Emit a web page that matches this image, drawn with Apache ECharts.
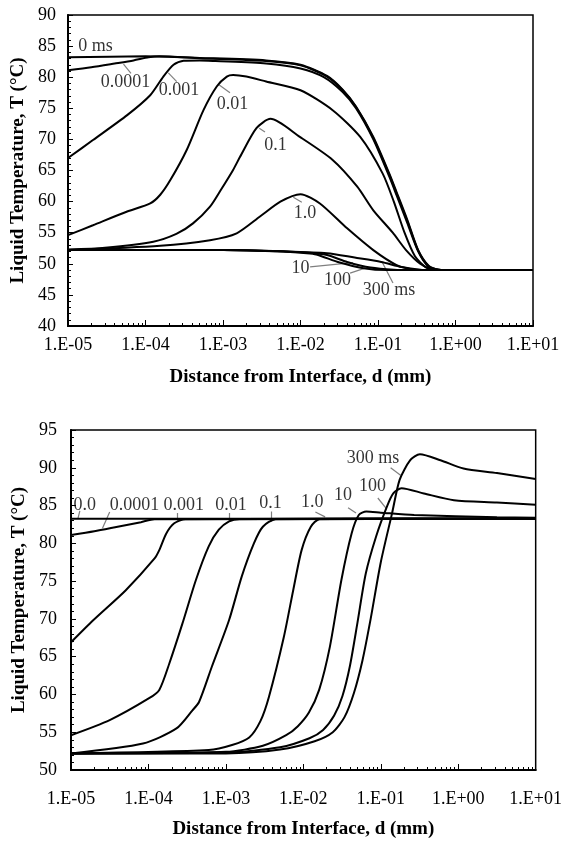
<!DOCTYPE html>
<html><head><meta charset="utf-8">
<script src="https://cdn.jsdelivr.net/npm/echarts@6/dist/echarts.min.js"></script>
<style>html,body{margin:0;padding:0;background:#fff}#c{width:565px;height:841px}</style>
</head><body><div id="c"></div>
<script>
// ---------- TOP CHART DATA (distance mm, temperature °C) ----------
const topX = { min: 1e-5, max: 10 };
const topY = { min: 40, max: 90, interval: 5 };
const top_0ms   = [[1e-5,83.2],[1e-4,83.35],[5e-4,83.1],[3.6e-3,82.7],[0.01,82.0],[0.022,80.2],[0.035,78.0],[0.052,75.3],[0.087,70.4],[0.14,64.5],[0.174,61.5],[0.24,57],[0.33,52.2],[0.45,49.7],[0.6,49.05],[1,49],[10,49]];
const top_00001 = [[1e-5,81.1],[2e-5,81.6],[4e-5,82.2],[7e-5,82.7],[1.1e-4,83.2],[1.5e-4,83.35],[5e-4,83.05],[3.6e-3,82.6],[0.01,81.9],[0.022,80.1],[0.035,77.9],[0.052,75.2],[0.087,70.2],[0.14,64.3],[0.174,61.3],[0.24,56.8],[0.33,52.1],[0.45,49.6],[0.6,49.05],[1,49],[10,49]];
const top_0001  = [[1e-5,67.0],[2.1e-5,69.9],[5.8e-5,73.9],[1.15e-4,77.1],[1.7e-4,80.1],[2.3e-4,82.0],[3.1e-4,82.65],[5e-4,82.7],[8e-4,82.6],[3.6e-3,82.2],[0.01,81.4],[0.02,80.0],[0.035,77.6],[0.052,75.0],[0.087,70.0],[0.14,64.0],[0.174,61.0],[0.24,56.5],[0.33,52.0],[0.45,49.5],[0.6,49.05],[1,49],[10,49]];
const top_001   = [[1e-5,54.6],[2.1e-5,56.2],[5.8e-5,58.4],[1.15e-4,59.7],[1.55e-4,61.1],[2.1e-4,63.5],[3.4e-4,68.3],[5.6e-4,74.7],[8.3e-4,78.5],[1.12e-3,80.1],[1.35e-3,80.35],[2e-3,80.1],[3.6e-3,79.3],[0.01,77.9],[0.026,74.7],[0.059,70.4],[0.115,64.5],[0.16,60],[0.22,55],[0.3,51.2],[0.42,49.4],[0.6,49.05],[1,49],[10,49]];
const top_01    = [[1e-5,52.3],[3e-5,52.6],[1.26e-4,53.55],[2.5e-4,54.8],[4.1e-4,56.5],[6.8e-4,59.2],[9.5e-4,62],[1.35e-3,65.1],[1.66e-3,67.2],[2.7e-3,71.8],[4.1e-3,73.3],[9.8e-3,70.4],[0.026,66.7],[0.054,62.4],[0.087,58.6],[0.155,55],[0.23,52.2],[0.35,50.0],[0.5,49.1],[0.7,49],[10,49]];
const top_1     = [[1e-5,52.2],[1.55e-4,52.9],[6.8e-4,53.8],[1.5e-3,54.9],[3e-3,57.6],[5.5e-3,60.0],[0.01,61.2],[0.0178,59.7],[0.04,55.7],[0.087,52.2],[0.174,49.8],[0.3,49.05],[1,49],[10,49]];
const top_10    = [[1e-5,52.2],[1e-3,52.2],[5e-3,52.0],[0.012,51.8],[0.022,51.4],[0.04,50.3],[0.08,49.4],[0.16,49.05],[0.3,49],[10,49]];
const top_100   = [[1e-5,52.2],[1e-3,52.2],[5e-3,52.0],[0.012,51.7],[0.016,51.5],[0.032,50.2],[0.065,49.3],[0.13,49.0],[10,49]];
const top_300   = [[1e-5,52.2],[1e-3,52.2],[6e-3,52.0],[0.022,51.7],[0.05,51.0],[0.11,50.3],[0.2,49.5],[0.35,49.05],[0.5,49],[10,49]];
const topCurves = [top_0ms, top_00001, top_0001, top_001, top_01, top_1, top_10, top_100, top_300];

const topLabelText = ['0 ms','0.0001','0.001','0.01','0.1','1.0','10','100','300 ms'];
const topLabelPos  = [[2.26e-5,85.0],[5.5e-5,79.2],[2.7e-4,77.9],[1.33e-3,75.7],[4.75e-3,69.1],[0.0114,58.2],[0.01,49.3],[0.03,47.4],[0.139,45.8]];
const topLeaders   = [null,
  [[5.2e-5,82.1],[6.5e-5,80.6]],
  [[1.97e-4,80.7],[2.53e-4,79.3]],
  [[8.95e-4,78.75],[1.23e-3,77.5]],
  [[2.94e-3,71.8],[3.48e-3,71.2]],
  [[8.07e-3,60.7],[0.0104,59.9]],
  [[0.0133,49.5],[0.0475,50.2]],
  [[0.0436,48.5],[0.068,49.3]],
  [[0.113,50.3],[0.156,46.9]]];

// ---------- BOTTOM CHART DATA ----------
const botX = { min: 1e-5, max: 10 };
const botY = { min: 50, max: 95, interval: 5 };
const bot_0     = [[1e-5,83.25],[10,83.25]];
const bot_00001 = [[1e-5,81.1],[2e-5,81.6],[4e-5,82.2],[8e-5,82.8],[1.2e-4,83.2],[10,83.25]];
const bot_0001  = [[1e-5,66.9],[1.95e-5,69.85],[5.1e-5,73.8],[1.2e-4,78.0],[1.38e-4,79.1],[1.7e-4,81.3],[2.15e-4,82.65],[3e-4,83.2],[10,83.25]];
const bot_001   = [[1e-5,54.6],[3.16e-5,56.6],[1.02e-4,59.5],[1.38e-4,60.6],[1.86e-4,64.1],[2.75e-4,69.4],[4.1e-4,75.15],[6e-4,79.6],[8.1e-4,81.8],[1.1e-3,82.9],[1.5e-3,83.2],[10,83.25]];
const bot_01    = [[1e-5,52.2],[8.5e-5,53.5],[2.3e-4,55.5],[3.7e-4,57.9],[4.5e-4,59.0],[6.6e-4,63.7],[1.1e-3,69.85],[1.6e-3,75.6],[2.3e-3,80.0],[3e-3,82.2],[4.4e-3,83.2],[10,83.25]];
const bot_1     = [[1e-5,52.2],[6e-4,52.65],[1.2e-3,53.3],[2e-3,54.3],[2.8e-3,56.5],[3.6e-3,59.7],[5.6e-3,67.6],[7.4e-3,73.8],[9.5e-3,79.1],[0.0125,82.2],[0.0162,83.2],[10,83.25]];
const bot_10    = [[1e-5,52.2],[1e-3,52.4],[3e-3,53.2],[6e-3,54.6],[0.0085,55.8],[0.0118,57.6],[0.016,60.6],[0.022,66.3],[0.031,75.15],[0.042,81.3],[0.052,83.75],[0.065,84.2],[0.1,84.06],[0.27,83.75],[3.16,83.45],[10,83.4]];
const bot_100   = [[1e-5,52.2],[1e-3,52.3],[5e-3,53.0],[0.012,54.2],[0.018,55.3],[0.025,57.2],[0.032,59.8],[0.04,63.8],[0.05,69.5],[0.064,76.0],[0.087,80.9],[0.12,84.85],[0.145,86.6],[0.185,87.3],[0.36,86.6],[0.88,85.7],[3.16,85.4],[10,85.1]];
const bot_300   = [[1e-5,52.2],[1e-3,52.2],[5e-3,52.7],[0.014,53.8],[0.024,55.0],[0.034,57.0],[0.045,60.2],[0.058,64.5],[0.074,70.0],[0.1,77.5],[0.14,84.0],[0.175,88.4],[0.24,91.0],[0.32,91.8],[0.59,91.0],[1.17,89.9],[3.16,89.3],[10,88.5]];
const botCurves = [bot_0, bot_00001, bot_0001, bot_001, bot_01, bot_1, bot_10, bot_100, bot_300];

const botLabelText = ['0.0','0.0001','0.001','0.01','0.1','1.0','10','100','300 ms'];
const botLabelPos  = [[1.51e-5,85.1],[6.6e-5,85.1],[2.85e-4,85.1],[1.16e-3,85.1],[3.78e-3,85.3],[0.013,85.5],[0.0326,86.4],[0.078,87.5],[0.0794,91.3]];
const botLeaders   = [
  [[1.3e-5,84.3],[1.23e-5,83.3]],
  [[3.16e-5,84.15],[2.55e-5,82.0]],
  [[2.38e-4,84.0],[2.38e-4,82.9]],
  [[1.09e-3,84.0],[1.09e-3,82.9]],
  [[3.9e-3,84.2],[3.9e-3,82.9]],
  [[0.0143,84.15],[0.0191,83.5]],
  [[0.0378,84.7],[0.0479,84.0]],
  [[0.0916,86.0],[0.116,84.7]],
  [[0.134,90.0],[0.18,89.0]]];

// ---------- build ----------
const FONT = "'Liberation Serif','Times New Roman',serif";
function expLabel(v){
  const e = Math.round(Math.log10(v));
  return '1.E' + (e < 0 ? '-' : '+') + String(Math.abs(e)).padStart(2,'0');
}
function xAxisCfg(grid, lim, margin, gap){
  return {
    type:'log', logBase:10, gridIndex:grid, min:lim.min, max:lim.max,
    name:'Distance from Interface, d (mm)', nameLocation:'middle', nameGap:gap,
    nameTextStyle:{fontFamily:FONT, fontWeight:'bold', fontSize:19, color:'#000'},
    axisLine:{show:true, onZero:false, lineStyle:{color:'#000', width:2}},
    axisTick:{show:true, inside:true, length:6, lineStyle:{color:'#000', width:1}},
    minorTick:{show:true, splitNumber:9, length:3, lineStyle:{color:'#000', width:1}},
    axisLabel:{fontFamily:FONT, fontSize:18, color:'#000', margin:margin, formatter:expLabel},
    splitLine:{show:false}, minorSplitLine:{show:false}
  };
}
function yAxisCfg(grid, lim, gap, margin){
  return {
    type:'value', gridIndex:grid, min:lim.min, max:lim.max, interval:lim.interval,
    name:'Liquid Temperature, T (\u00B0C)', nameLocation:'middle', nameGap:gap, nameRotate:90,
    nameTextStyle:{fontFamily:FONT, fontWeight:'bold', fontSize:19, color:'#000'},
    axisLine:{show:true, onZero:false, lineStyle:{color:'#000', width:2}},
    axisTick:{show:true, inside:true, length:5, lineStyle:{color:'#000', width:1}},
    minorTick:{show:true, splitNumber:5, length:3, lineStyle:{color:'#000', width:1}},
    axisLabel:{fontFamily:FONT, fontSize:18, color:'#000', margin:margin},
    splitLine:{show:false}, minorSplitLine:{show:false}
  };
}
const series = [];
function addCurves(curves, idx){
  curves.forEach(c => series.push({
    type:'line', xAxisIndex:idx, yAxisIndex:idx, data:c, showSymbol:false, symbol:'none',
    smooth:0.25, lineStyle:{color:'#000', width:2}, silent:true, z:3
  }));
}
function addLabels(texts, pos, leaders, idx){
  series.push({
    type:'scatter', xAxisIndex:idx, yAxisIndex:idx, symbolSize:0, silent:true, z:5,
    data: pos.map((p,i)=>({value:p, name:texts[i]})),
    label:{show:true, position:'inside', formatter:p=>p.name, fontFamily:FONT, fontSize:18, color:'#000'}
  });
  series.push({
    type:'lines', coordinateSystem:'cartesian2d', xAxisIndex:idx, yAxisIndex:idx, silent:true, z:4,
    data: leaders.filter(l=>l).map(l=>({coords:l})),
    lineStyle:{color:'#000', width:1.2}
  });
}
addCurves(topCurves, 0);
addCurves(botCurves, 1);
addLabels(topLabelText, topLabelPos, topLeaders, 0);
addLabels(botLabelText, botLabelPos, botLeaders, 1);

const chart = echarts.init(document.getElementById('c'), null, {renderer:'canvas'});
chart.setOption({
  animation:false,
  backgroundColor:'#fff',
  grid:[
    {left:68, right:32, top:15, height:311, show:true, borderColor:'#000', borderWidth:1.5, backgroundColor:'transparent'},
    {left:71, right:26, top:430, height:340, show:true, borderColor:'#000', borderWidth:1.5, backgroundColor:'transparent'}
  ],
  xAxis:[xAxisCfg(0, topX, 10, 42), xAxisCfg(1, botX, 20, 50)],
  yAxis:[yAxisCfg(0, topY, 38, 12), yAxisCfg(1, botY, 38, 14)],
  series: series
});
</script></body></html>
